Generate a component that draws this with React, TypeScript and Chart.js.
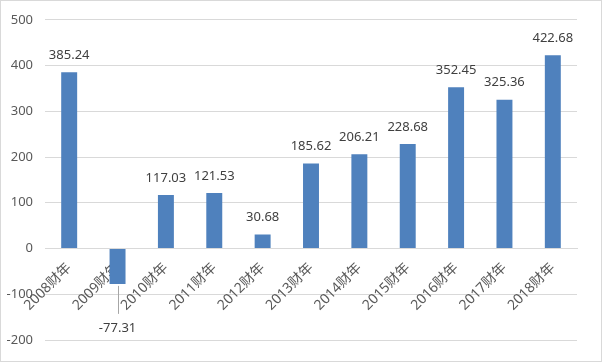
import React, { useEffect, useRef } from 'react';
import { Chart, registerables } from 'chart.js';

Chart.register(...registerables);

const categories = ['2008财年', '2009财年', '2010财年', '2011财年', '2012财年', '2013财年', '2014财年', '2015财年', '2016财年', '2017财年', '2018财年'];
const values = [385.24, -77.31, 117.03, 121.53, 30.68, 185.62, 206.21, 228.68, 352.45, 325.36, 422.68];
const yMin = -200;
const yMax = 500;
const yStep = 100;

const FONT = '"Noto Sans", "Noto Sans CJK SC", sans-serif';
const BAR = '#4F81BD';
const GRID = '#d9d9d9';
const TEXT = '#595959';

const borderPlugin = {
  id: 'outerBorder',
  beforeDraw(chart: any) {
    const ctx = chart.ctx;
    ctx.save();
    ctx.fillStyle = '#ffffff';
    ctx.fillRect(0, 0, chart.width, chart.height);
    ctx.strokeStyle = GRID;
    ctx.lineWidth = 1;
    ctx.strokeRect(0.5, 0.5, chart.width - 1, chart.height - 1);
    ctx.restore();
  },
};

const labelPlugin = {
  id: 'valueLabels',
  afterDatasetsDraw(chart: any) {
    const ctx = chart.ctx;
    const meta = chart.getDatasetMeta(0);
    ctx.save();
    ctx.font = `13px ${FONT}`;
    ctx.fillStyle = '#404040';
    ctx.textAlign = 'center';
    ctx.textBaseline = 'middle';
    meta.data.forEach((bar: any, i: number) => {
      const v = values[i];
      const { x, y } = bar.getProps(['x', 'y'], true);
      if (v >= 0) {
        ctx.fillText(v.toFixed(2), x, y - 17);
      } else {
        ctx.strokeStyle = '#a6a6a6';
        ctx.lineWidth = 1;
        const lx = Math.round(x) + 0.5;
        ctx.beginPath();
        ctx.moveTo(lx, y + 2);
        ctx.lineTo(lx, y + 30);
        ctx.stroke();
        ctx.fillText(v.toFixed(2), x, y + 44);
      }
    });
    ctx.restore();
  },
};

export default function App() {
  const ref = useRef<HTMLCanvasElement>(null);
  useEffect(() => {
    document.body.style.margin = '0';
    const chart = new Chart(ref.current as HTMLCanvasElement, {
      type: 'bar',
      data: {
        labels: categories,
        datasets: [
          {
            data: values,
            backgroundColor: BAR,
            borderWidth: 0,
            barPercentage: 0.33,
            categoryPercentage: 1,
          },
        ],
      },
      options: {
        responsive: false,
        animation: false,
        devicePixelRatio: 1,
        layout: { padding: { left: 6, top: 17, right: 25, bottom: 22 } },
        plugins: { legend: { display: false }, tooltip: { enabled: false } },
        scales: {
          x: {
            position: { y: 0 } as any,
            z: 1,
            grid: { display: false, drawTicks: false },
            border: { display: true, color: GRID },
            ticks: {
              autoSkip: false,
              minRotation: 45,
              maxRotation: 45,
              padding: 11,
              color: TEXT,
              font: { family: FONT, size: 14 },
            },
          },
          y: {
            min: yMin,
            max: yMax,
            afterFit: (s: any) => {
              s.width = 39;
            },
            grid: { color: GRID, drawTicks: false },
            border: { display: false },
            ticks: {
              stepSize: yStep,
              padding: 12,
              color: TEXT,
              font: { family: FONT, size: 13 },
            },
          },
        },
      },
      plugins: [borderPlugin, labelPlugin],
    });
    return () => chart.destroy();
  }, []);
  return <canvas ref={ref} width={602} height={362} style={{ display: 'block' }} />;
}
